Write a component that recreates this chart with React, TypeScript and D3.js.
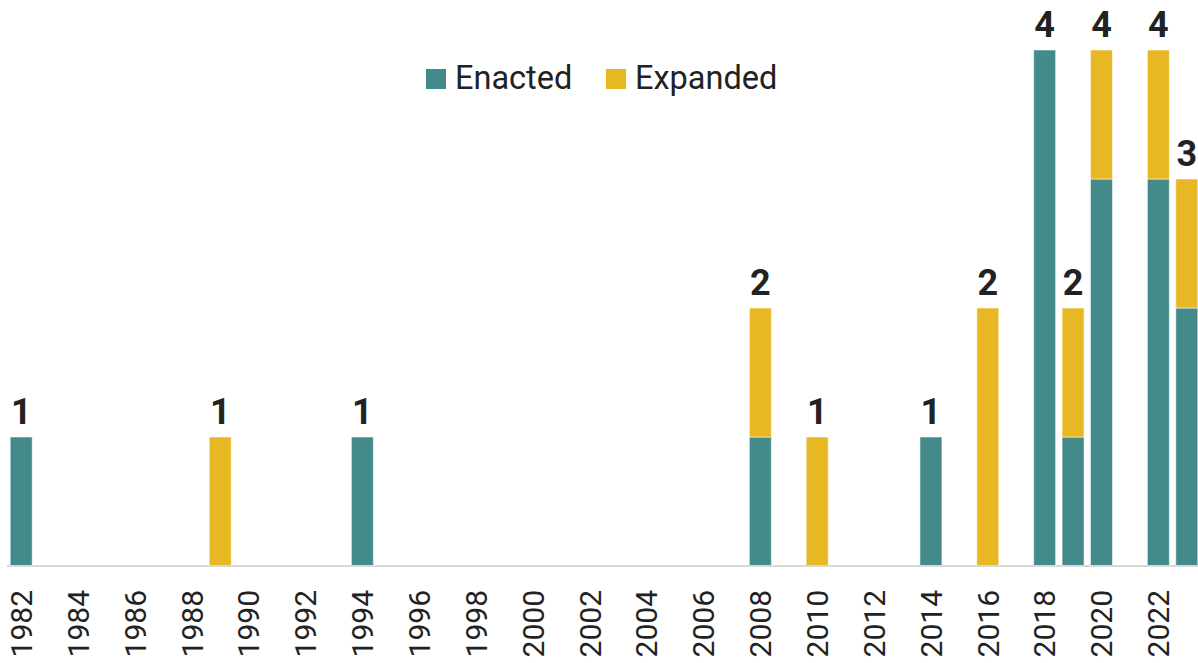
import React from "react";
import * as d3 from "d3";

const years: number[] = d3.range(1982, 2024);
const enactedYears = [1982, 1994, 2008, 2014, 2018, 2019, 2020, 2022, 2023];
const enactedValues = [1, 1, 1, 1, 4, 1, 3, 3, 2];
const expandedYears = [1989, 2008, 2010, 2016, 2019, 2020, 2022, 2023];
const expandedValues = [1, 1, 1, 2, 1, 1, 1, 1];
const tickYears: number[] = d3.range(1982, 2024, 2);
const seriesNames = ["Enacted", "Expanded"];
const colors = ["#438b8b", "#e8b824"];

const W = 1198;
const H = 663;

export default function App() {
  const rows = years.map((y) => {
    const ei = enactedYears.indexOf(y);
    const xi = expandedYears.indexOf(y);
    return {
      year: y,
      Enacted: ei >= 0 ? enactedValues[ei] : 0,
      Expanded: xi >= 0 ? expandedValues[xi] : 0,
    };
  });
  const stack = d3.stack<any>().keys(seriesNames)(rows);
  const x = d3
    .scaleBand<number>()
    .domain(years)
    .range([7, 1201])
    .paddingInner(0.226)
    .paddingOuter(0.113);
  const y = d3.scaleLinear().domain([0, 4]).range([566, 50]);
  const font = "Roboto, 'Noto Sans', sans-serif";

  return (
    <svg
      width={W}
      height={H}
      style={{ position: "absolute", left: 0, top: 0, display: "block", background: "#fff" }}
    >
      {stack.map((s, si) =>
        s.map((d: any) =>
          d[1] - d[0] > 0 ? (
            <rect
              key={seriesNames[si] + d.data.year}
              x={x(d.data.year)}
              width={x.bandwidth()}
              y={y(d[1])}
              height={y(d[0]) - y(d[1])}
              fill={colors[si]}
              stroke="#ffffff"
              strokeOpacity={0.55}
              strokeWidth={1}
            />
          ) : null
        )
      )}
      <line x1={7} x2={W} y1={566} y2={566} stroke="#d9d9d9" strokeWidth={2} />
      {rows
        .filter((r) => r.Enacted + r.Expanded > 0)
        .map((r) => (
          <text
            key={"lab" + r.year}
            x={(x(r.year) as number) + x.bandwidth() / 2}
            y={y(r.Enacted + r.Expanded) - 13}
            textAnchor="middle"
            fontFamily={font}
            fontWeight={700}
            fontSize={36}
            fill="#222"
          >
            {r.Enacted + r.Expanded}
          </text>
        ))}
      {tickYears.map((t) => (
        <text
          key={"t" + t}
          transform={`translate(${(x(t) as number) + x.bandwidth() / 2},590) rotate(-90)`}
          textAnchor="end"
          dy="0.36em"
          fontFamily={font}
          fontSize={30}
          fill="#222"
        >
          {t}
        </text>
      ))}
      {seriesNames.map((n, i) => {
        const lx = [426, 606][i];
        return (
          <g key={n}>
            <rect x={lx} y={69} width={20} height={20} fill={colors[i]} />
            <text x={lx + 29} y={89} fontFamily={font} fontSize={32.5} fill="#222">
              {n}
            </text>
          </g>
        );
      })}
    </svg>
  );
}
